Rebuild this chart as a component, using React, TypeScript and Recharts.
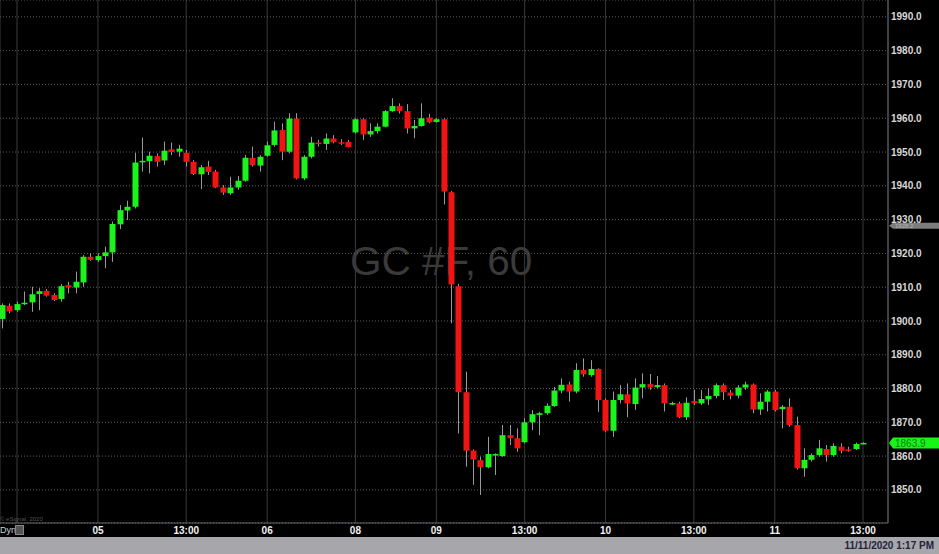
import React from "react";
import { ComposedChart, Bar, XAxis, YAxis, CartesianGrid, ReferenceLine } from "recharts";

// Hourly OHLC candles (GC #F, 60)
const opens = [
  1900.6, 1904.5, 1903.2, 1905.0, 1905.5, 1908.0, 1908.9, 1907.7, 1906.5, 1910.6,
  1909.9, 1911.4, 1919.0, 1918.0, 1919.2, 1920.3, 1928.6, 1932.7, 1933.8, 1947.0,
  1947.3, 1948.8, 1947.5, 1950.8, 1950.1, 1949.8, 1947.1, 1943.4, 1945.7, 1944.2,
  1939.5, 1937.8, 1939.5, 1941.5, 1948.3, 1946.0, 1948.9, 1952.1, 1956.5, 1950.1,
  1959.9, 1942.2, 1948.6, 1952.8, 1952.4, 1954.0, 1952.9, 1953.0, 1955.8, 1959.7,
  1955.2, 1956.2, 1957.5, 1962.1, 1963.6, 1962.1, 1957.0, 1957.7, 1960.2, 1958.9,
  1959.7, 1938.1, 1910.3, 1878.9, 1861.6, 1858.8, 1856.7, 1860.4, 1860.0, 1866.2,
  1865.3, 1864.1, 1870.0, 1872.2, 1872.7, 1874.8, 1879.4, 1881.2, 1879.1, 1885.5,
  1884.0, 1885.8, 1876.6, 1867.5, 1876.6, 1878.3, 1875.4, 1880.3, 1881.3, 1880.4,
  1881.0, 1875.6, 1875.6, 1871.5, 1876.3, 1875.6, 1876.8, 1877.8, 1881.0, 1878.8,
  1877.9, 1880.3, 1881.2, 1873.8, 1876.1, 1879.1, 1873.9, 1874.6, 1869.2, 1856.4,
  1858.9, 1860.3, 1862.1, 1860.3, 1862.8, 1862.0, 1862.1, 1863.7,
];
const highs = [
  1905.2, 1905.2, 1905.7, 1908.7, 1910.1, 1909.7, 1909.4, 1908.2, 1910.9, 1911.6,
  1914.6, 1919.5, 1920.0, 1920.0, 1922.0, 1929.4, 1934.3, 1935.6, 1949.8, 1954.3,
  1950.1, 1949.6, 1953.1, 1952.8, 1952.1, 1950.6, 1947.6, 1946.2, 1947.4, 1944.7,
  1940.2, 1942.7, 1942.9, 1949.1, 1951.6, 1949.1, 1953.1, 1959.0, 1958.5, 1961.5,
  1961.5, 1949.1, 1954.5, 1953.6, 1955.5, 1955.0, 1953.8, 1953.6, 1960.0, 1960.0,
  1958.5, 1958.5, 1962.4, 1965.9, 1964.4, 1964.2, 1959.5, 1964.4, 1961.3, 1960.0,
  1960.0, 1938.5, 1911.0, 1885.0, 1862.0, 1859.8, 1865.7, 1860.8, 1869.2, 1869.2,
  1868.2, 1871.2, 1873.6, 1873.1, 1875.6, 1880.5, 1883.0, 1882.0, 1887.5, 1888.9,
  1888.4, 1886.0, 1877.1, 1879.1, 1881.0, 1881.5, 1883.0, 1884.5, 1884.3, 1883.7,
  1881.5, 1876.1, 1876.1, 1877.4, 1879.6, 1879.6, 1880.1, 1881.5, 1881.5, 1879.6,
  1881.0, 1882.0, 1881.5, 1878.6, 1879.6, 1879.6, 1875.1, 1877.1, 1871.7, 1862.3,
  1860.8, 1864.8, 1863.3, 1863.8, 1863.8, 1862.8, 1864.0, 1864.1,
];
const lows = [
  1897.8, 1902.3, 1902.7, 1904.7, 1902.7, 1903.2, 1907.2, 1905.9, 1905.7, 1908.2,
  1908.2, 1910.1, 1917.8, 1917.5, 1915.6, 1917.5, 1927.2, 1929.9, 1933.3, 1944.2,
  1943.7, 1945.7, 1946.2, 1949.1, 1948.6, 1945.7, 1943.2, 1939.0, 1943.2, 1939.3,
  1937.3, 1937.3, 1938.8, 1941.2, 1945.7, 1944.2, 1948.6, 1951.6, 1947.6, 1949.6,
  1941.9, 1941.7, 1948.1, 1951.6, 1950.6, 1952.6, 1952.1, 1951.4, 1955.5, 1953.6,
  1954.5, 1955.5, 1957.3, 1961.9, 1961.4, 1955.5, 1954.1, 1957.5, 1958.5, 1958.7,
  1934.5, 1899.3, 1866.7, 1856.9, 1851.5, 1848.5, 1856.4, 1854.4, 1859.8, 1863.3,
  1861.3, 1863.8, 1867.7, 1866.2, 1872.2, 1874.6, 1878.6, 1876.1, 1878.6, 1883.5,
  1883.5, 1873.1, 1867.2, 1865.7, 1875.6, 1871.5, 1873.7, 1877.1, 1879.6, 1880.1,
  1873.2, 1875.1, 1871.2, 1870.7, 1875.1, 1875.1, 1875.1, 1877.1, 1876.6, 1876.8,
  1877.1, 1879.6, 1872.7, 1872.2, 1873.2, 1873.2, 1868.2, 1868.7, 1856.0, 1853.9,
  1858.4, 1859.8, 1858.4, 1859.8, 1860.8, 1861.3, 1861.8, 1863.5,
];
const closes = [
  1904.7, 1902.8, 1905.0, 1905.4, 1907.9, 1908.8, 1907.5, 1906.2, 1910.3, 1909.9,
  1911.6, 1919.0, 1918.1, 1919.2, 1920.3, 1928.7, 1932.8, 1933.8, 1946.9, 1947.4,
  1948.9, 1947.1, 1950.4, 1950.0, 1951.0, 1947.1, 1943.5, 1945.5, 1944.1, 1939.5,
  1938.0, 1939.5, 1941.5, 1948.3, 1946.1, 1948.6, 1952.0, 1956.4, 1950.1, 1959.9,
  1942.2, 1948.6, 1952.8, 1952.4, 1954.0, 1952.9, 1952.8, 1951.5, 1959.7, 1955.2,
  1956.2, 1957.5, 1962.1, 1963.6, 1962.1, 1957.0, 1957.7, 1960.0, 1958.8, 1959.7,
  1938.3, 1910.8, 1878.9, 1861.6, 1859.0, 1856.7, 1860.6, 1860.6, 1866.2, 1865.3,
  1862.3, 1870.0, 1872.4, 1872.7, 1874.9, 1879.4, 1881.1, 1879.1, 1885.5, 1884.2,
  1885.8, 1876.6, 1867.5, 1876.6, 1878.3, 1875.6, 1880.3, 1881.3, 1880.3, 1881.0,
  1875.6, 1875.7, 1871.5, 1875.8, 1875.6, 1876.9, 1877.8, 1881.0, 1878.9, 1877.9,
  1880.3, 1881.2, 1873.8, 1876.1, 1879.1, 1873.6, 1874.6, 1869.2, 1856.4, 1858.9,
  1860.3, 1862.3, 1860.3, 1863.0, 1861.6, 1861.8, 1863.6, 1863.9,
];

// x-axis ticks (candle index -> label)
const tickIndexes = [2, 13, 25, 36, 48, 59, 71, 82, 94, 105, 117];
const tickLabels = ["", "05", "13:00", "06", "08", "09", "13:00", "10", "13:00", "11", "13:00"];
const priceTicks = [1850, 1860, 1870, 1880, 1890, 1900, 1910, 1920, 1930, 1940, 1950, 1960, 1970, 1980, 1990];
const lastPrice = 1863.9;
const markerPrice = 1928.2;

const data = closes.map((c, i) => ({ i, o: opens[i], h: highs[i], l: lows[i], c }));

const GREEN = "#1cf21c";
const RED = "#f01414";
const WICK = "#9a9a9a";
const FONT = "'Liberation Sans', Arial, sans-serif";

const Candle = (props: any) => {
  const { x, y, width, height, payload } = props;
  if (x == null || y == null || !payload) return null;
  const top = Math.min(y, y + height);
  const bot = Math.max(y, y + height);
  const { o, h, l, c } = payload;
  const span = h - l || 1;
  const py = (p: number) => top + ((h - p) / span) * (bot - top);
  const ci = Math.floor(x + width / 2);
  const up = c >= o;
  const bt = py(Math.max(o, c));
  const bb = py(Math.min(o, c));
  const bh = Math.max(1.5, bb - bt);
  return (
    <g>
      <line x1={ci + 0.5} x2={ci + 0.5} y1={top} y2={bot} stroke={WICK} strokeWidth={1} />
      <rect x={ci - 2.5} y={bt} width={6} height={bh} fill={up ? GREEN : RED} />
    </g>
  );
};

const PriceTag = (props: any) => {
  const { viewBox, text, bg, fg, h, fs, bold } = props;
  if (!viewBox) return null;
  const x = viewBox.x + viewBox.width + 1;
  const y = viewBox.y;
  const pts = `${x},${y} ${x + 4},${y - h / 2} 939,${y - h / 2} 939,${y + h / 2} ${x + 4},${y + h / 2}`;
  return (
    <g>
      <polygon points={pts} fill={bg} />
      <text x={x + 6} y={y} dy="0.36em" fill={fg} fontSize={fs} fontFamily={FONT} fontWeight={bold ? "bold" : "normal"}>
        {text}
      </text>
    </g>
  );
};

export default function App() {
  const fmtX = (v: number) => {
    const k = tickIndexes.indexOf(v);
    return k >= 0 ? tickLabels[k] : "";
  };
  return (
    <div style={{ position: "absolute", left: 0, top: 0, width: 939, height: 554, background: "#000", overflow: "hidden", fontFamily: FONT }}>
      <svg width={939} height={537} style={{ position: "absolute", left: 0, top: 0 }}>
        <text x={350} y={275} fontSize={40.5} fill="#3a3a3a" fontFamily={FONT}>GC #F, 60</text>
      </svg>
      <div style={{ position: "absolute", left: 0, top: 0 }}>
        <ComposedChart width={939} height={537} data={data} margin={{ top: 0, right: 0, bottom: 0, left: 0 }}>
          <CartesianGrid horizontal={false} stroke="#3a3a3a" />
          <CartesianGrid vertical={false} stroke="#5e5e5e" strokeDasharray="1 2" />
          <XAxis
            dataKey="i"
            type="number"
            domain={[-0.3126, 120.39]}
            allowDataOverflow
            ticks={tickIndexes}
            interval={0}
            tickFormatter={fmtX}
            height={14}
            tickLine={false}
            tickSize={0}
            tickMargin={4}
            axisLine={{ stroke: "#666" }}
            tick={{ fill: "#f2f2f2", fontSize: 10, fontWeight: "bold", fontFamily: FONT }}
          />
          <YAxis
            orientation="right"
            type="number"
            domain={[1840.2, 1995]}
            allowDataOverflow
            ticks={priceTicks}
            interval={0}
            width={51}
            tickLine={false}
            tickSize={0}
            tickMargin={3}
            axisLine={{ stroke: "#666" }}
            tickFormatter={(v: number) => v.toFixed(1)}
            tick={{ fill: "#d8d8d8", fontSize: 10, fontWeight: "bold", fontFamily: FONT, textAnchor: "start" }}
          />
          <Bar dataKey={(d: any) => [d.l, d.h]} barSize={6} shape={<Candle />} isAnimationActive={false} />
          <ReferenceLine
            y={markerPrice}
            stroke="none"
            label={<PriceTag text={markerPrice.toFixed(1)} bg="#7c7c7c" fg="#b4b4b4" h={6} fs={6} />}
          />
          <ReferenceLine
            y={lastPrice}
            stroke="none"
            label={<PriceTag text={lastPrice.toFixed(1)} bg="#16f516" fg="#137a13" h={11} fs={10} bold={false} />}
          />
        </ComposedChart>
      </div>
      <div style={{ position: "absolute", left: 0, top: 516, fontSize: 6, color: "#555", whiteSpace: "nowrap" }}>© eSignal, 2020</div>
      <div style={{ position: "absolute", left: 0, top: 525, fontSize: 9, color: "#cfcfcf", whiteSpace: "nowrap" }}>Dyn</div>
      <div style={{ position: "absolute", left: 15, top: 525, width: 9, height: 10, background: "#555", border: "1px solid #888", boxSizing: "border-box" }} />
      <div style={{ position: "absolute", left: 0, top: 537, width: 939, height: 17, background: "#a6a6ab" }}>
        <div style={{ position: "absolute", right: 5, top: 3, fontSize: 10, fontWeight: "bold", color: "#23233a", whiteSpace: "nowrap" }}>
          11/11/2020 1:17 PM
        </div>
      </div>
    </div>
  );
}
